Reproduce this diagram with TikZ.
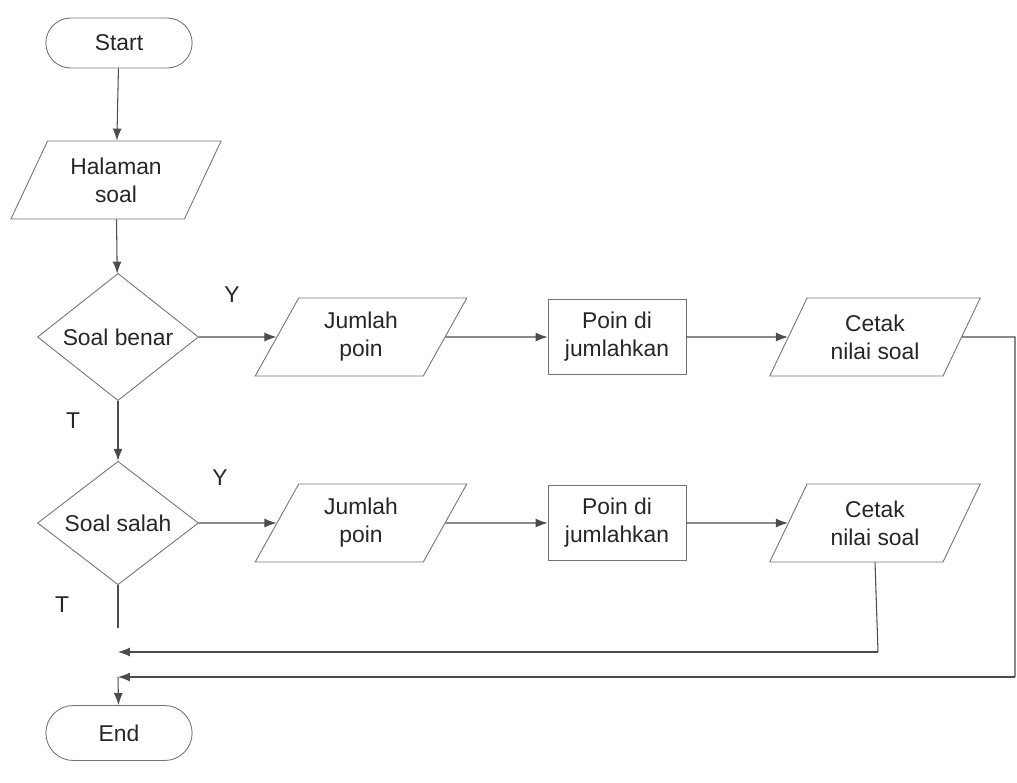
\documentclass[tikz,border=0pt]{standalone}
\usepackage{fontspec}
\setmainfont{Liberation Sans}
\usetikzlibrary{shapes.geometric,shapes.misc,arrows.meta}
\tikzset{
  base/.style={draw=black!55, line width=0.5pt, text=black!85, align=center, font=\fontsize{13}{16}\selectfont},
  terminal/.style={base, rounded rectangle, minimum width=3.16cm, minimum height=1cm},
  io/.style={base, trapezium, trapezium left angle=64, trapezium right angle=116, trapezium stretches=true, minimum width=4.24cm, minimum height=1.56cm},
  process/.style={base, rectangle, minimum width=2.76cm, minimum height=1.5cm},
  decision/.style={base, diamond, minimum width=3.22cm, minimum height=2.3cm, inner sep=0pt},
  line/.style={draw=black!70, line width=0.6pt},
  arrow/.style={line, -{Latex[length=2.4mm,width=1.8mm]}},
  lbl/.style={font=\fontsize{13}{16}\selectfont, text=black!85},
}
\begin{document}
\begin{tikzpicture}[x=0.02cm, y=-0.02cm]
\useasboundingbox (0,0) rectangle (1017,782);

\node[terminal] (start) at (119,43) {Start};
\node[io] (halaman) at (116,180) {Halaman\\soal};
\node[decision] (benar) at (118,337) {Soal benar};
\node[io] (jumlah1) at (361,337) {Jumlah\\poin};
\node[process] (poin1) at (617,337) {Poin di\\jumlahkan};
\node[io] (cetak1) at (875,337) {Cetak\\nilai soal};

\node[decision] (salah) at (118,523) {Soal salah};
\node[io] (jumlah2) at (361,523) {Jumlah\\poin};
\node[process] (poin2) at (617,523) {Poin di\\jumlahkan};
\node[io] (cetak2) at (875,523) {Cetak\\nilai soal};

\node[terminal, minimum height=1.1cm] (end) at (119,733) {End};

\node[lbl] (y1) at (232,295) {Y};
\node[lbl] (t1) at (73,421) {T};
\node[lbl] (y2) at (220,478) {Y};
\node[lbl] (t2) at (62,605) {T};

\coordinate (r1) at (1015,337);
\coordinate (r2) at (1015,677);
\coordinate (m2) at (118,677);
\coordinate (b1) at (878,652);
\coordinate (m1) at (118,652);
\coordinate (e2) at (118,628);

\draw[arrow] (start) -- (halaman);
\draw[arrow] (halaman) -- (benar);
\draw[arrow] (benar) -- (jumlah1);
\draw[arrow] (jumlah1) -- (poin1);
\draw[arrow] (poin1) -- (cetak1);
\draw[arrow] (benar) -- (salah);
\draw[arrow] (salah) -- (jumlah2);
\draw[arrow] (jumlah2) -- (poin2);
\draw[arrow] (poin2) -- (cetak2);

\draw[line] (cetak1) -- (r1) -- (r2);
\draw[arrow] (r2) -- (m2);
\draw[line] (cetak2.south) -- (b1);
\draw[arrow] (b1) -- (m1);
\draw[line] (salah) -- (e2);
\draw[arrow] (m2) -- (end);

\end{tikzpicture}
\end{document}
